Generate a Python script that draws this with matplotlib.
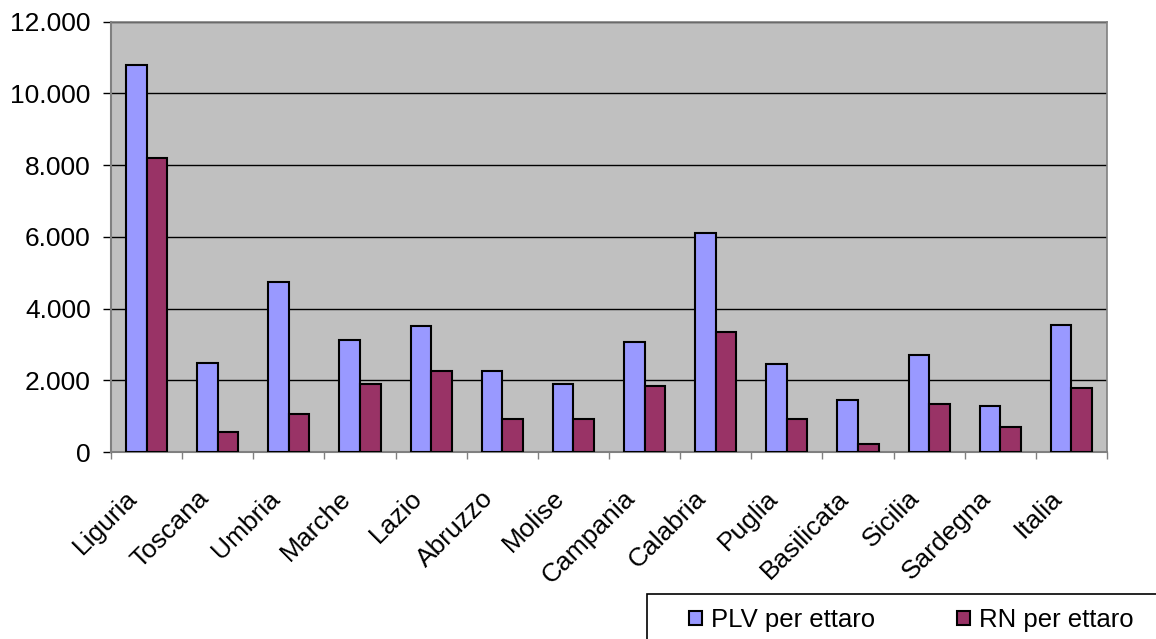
import numpy as np
import matplotlib
matplotlib.use("Agg")
import matplotlib.pyplot as plt
from matplotlib.ticker import FuncFormatter
from matplotlib.patches import Rectangle
import matplotlib.transforms as mtransforms

plt.rcParams['font.family'] = ['Liberation Sans', 'DejaVu Sans']

# Data
regioni = ['Liguria', 'Toscana', 'Umbria', 'Marche', 'Lazio', 'Abruzzo', 'Molise',
           'Campania', 'Calabria', 'Puglia', 'Basilicata', 'Sicilia', 'Sardegna', 'Italia']
plv_ettaro = [10800, 2490, 4730, 3115, 3505, 2270, 1900,
              3060, 6120, 2445, 1440, 2715, 1275, 3550]
rn_ettaro = [8190, 560, 1060, 1900, 2270, 930, 930,
             1830, 3340, 930, 215, 1340, 705, 1775]

fig = plt.figure(figsize=(11.56, 6.39), dpi=100)
ax = fig.add_axes([111 / 1156, 1 - 452 / 639, (1107 - 111) / 1156, (452 - 21.7) / 639])

x = np.arange(len(regioni))
w = 0.29
ax.bar(x - w / 2, plv_ettaro, w, color='#9999FF', edgecolor='black', linewidth=1.5,
       label='PLV per ettaro', zorder=3)
ax.bar(x + w / 2, rn_ettaro, w, color='#993366', edgecolor='black', linewidth=1.5,
       label='RN per ettaro', zorder=3)

ax.set_facecolor('#C0C0C0')
ax.set_xlim(-0.5, len(regioni) - 0.5)
ax.set_ylim(0, 12000)
ax.set_yticks(range(0, 12001, 2000))
ax.yaxis.set_major_formatter(FuncFormatter(lambda v, p: f'{int(v):,}'.replace(',', '.')))
ax.grid(axis='y', color='black', linewidth=1, zorder=1)

for s in ['top', 'right']:
    ax.spines[s].set_color('#808080')
    ax.spines[s].set_linewidth(1.2)
for s in ['left', 'bottom']:
    ax.spines[s].set_color('#808080')
    ax.spines[s].set_linewidth(1.5)

ax.tick_params(axis='y', labelsize=19, length=6, width=1, color='black', pad=8.5)
ax.tick_params(axis='x', which='major', length=0, pad=4)
ax.set_xticks(np.arange(-0.5, len(regioni), 1), minor=True)
ax.tick_params(axis='x', which='minor', length=5, width=1, color='#808080')
ax.set_xticks(x)
ax.set_xticklabels(regioni, rotation=45, ha='right', va='center',
                   rotation_mode='anchor', fontsize=19)
offset = mtransforms.ScaledTranslation(-13 / 100, -37 / 100, fig.dpi_scale_trans)
for lbl in ax.get_xticklabels():
    lbl.set_transform(lbl.get_transform() + offset)

# legend box running off the lower-right corner
fig.patches.append(Rectangle((647 / 1156, -0.05), 0.5, 0.05 + (639 - 594) / 639,
                             transform=fig.transFigure, facecolor='white',
                             edgecolor='black', linewidth=1.2))
fig.legend(loc='center left', bbox_to_anchor=(679 / 1156, 1 - 620 / 639), ncol=2,
           frameon=False, fontsize=18.5, borderaxespad=0, handlelength=0.5,
           handleheight=0.5, handletextpad=0.35, columnspacing=3.2)

fig.savefig('out.png', dpi=100)
